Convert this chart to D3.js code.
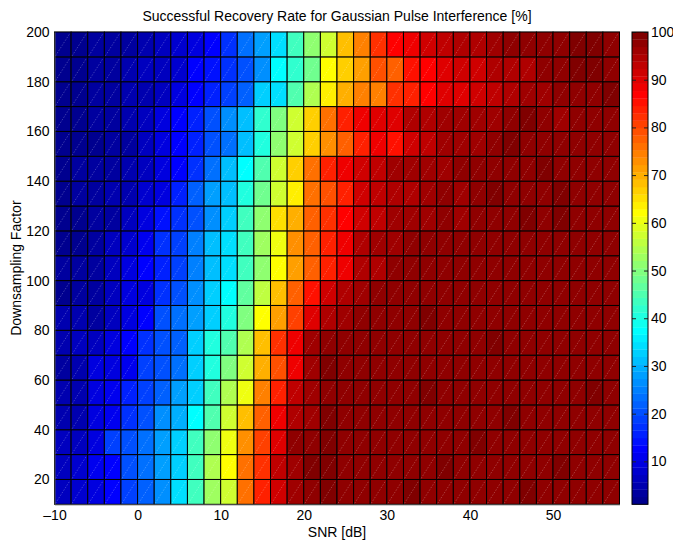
<!DOCTYPE html>
<html>
<head>
<meta charset="utf-8">
<script src="https://cdn.jsdelivr.net/npm/d3@7"></script>
<style>
  body { margin: 0; background: #fff; }
  text { font-family: "Liberation Sans", Arial, Helvetica, sans-serif; fill: #000; }
</style>
</head>
<body>
<svg id="chart" width="673" height="540"></svg>
<script>
// Lower-left corner of every cell: SNR (dB) columns and downsampling-factor rows
const snrStart = [-10, -8, -6, -4, -2, 0, 2, 4, 6, 8, 10, 12, 14, 16, 18, 20, 22,
                  24, 26, 28, 30, 32, 34, 36, 38, 40, 42, 44, 46, 48, 50, 52, 54, 56];
const factorStart = [10, 20, 30, 40, 50, 60, 70, 80, 90, 100,
                     110, 120, 130, 140, 150, 160, 170, 180, 190];

// Successful recovery rate [%], one row per downsampling factor (same order as factorStart)
const rateF10  = [7,8,10,13,19,22,27,34,44,53,58,76,84,91,96,98,99,98,98,98,98,99,98,98,98,98,98,98,99,98,98,98,98,98];
const rateF20  = [7,8,11,13,21,23,28,33,44,54,62,76,82,93,96,99,99,98,98,98,98,98,98,99,98,98,98,98,98,98,99,98,98,98];
const rateF30  = [6,7,9,19,21,23,28,32,43,52,61,73,81,90,98,98,99,98,98,98,98,98,98,98,98,99,98,98,98,98,98,98,98,98];
const rateF40  = [5,5,10,11,17,20,27,30,37,45,58,68,77,89,95,96,99,98,98,98,98,98,98,98,98,98,98,99,98,98,98,98,98,98];
const rateF50  = [5,5,9,11,16,19,22,28,33,43,54,61,74,84,93,96,98,98,98,98,98,98,99,98,98,98,98,98,98,98,98,98,99,98];
const rateF60  = [4,5,9,10,11,19,21,24,32,41,49,58,70,79,89,96,99,98,98,98,98,98,98,98,98,98,98,98,98,98,98,98,98,98];
const rateF70  = [5,6,7,10,13,17,20,22,32,40,45,55,68,82,89,96,98,98,98,98,98,98,98,98,98,98,99,98,98,98,98,98,98,98];
const rateF80  = [5,5,4,7,10,13,20,23,28,33,41,49,62,71,81,90,95,96,98,98,98,98,99,98,98,98,98,98,98,98,98,98,98,98];
const rateF90  = [2,3,4,6,9,10,17,20,27,33,38,47,56,68,77,85,91,95,96,98,98,98,98,98,98,98,98,98,98,98,98,98,98,98];
const rateF100 = [3,3,4,6,9,13,16,19,25,31,34,44,52,62,71,77,84,89,95,95,98,98,98,98,98,98,98,98,98,98,98,98,98,98];
const rateF110 = [2,2,3,6,8,11,17,19,25,31,34,44,53,60,73,78,84,88,94,96,96,98,97,98,97,98,98,97,98,98,98,98,98,98];
const rateF120 = [2,2,3,4,6,9,14,17,20,27,33,43,51,65,70,78,82,87,91,93,96,96,96,97,96,98,98,98,99,98,99,98,98,98];
const rateF130 = [2,3,3,5,5,8,10,16,22,28,31,40,48,58,64,76,79,84,92,93,95,95,96,98,96,97,99,98,98,98,99,98,98,98];
const rateF140 = [2,3,3,3,5,7,9,12,17,23,31,38,45,58,67,76,84,89,92,93,96,96,96,96,97,97,98,98,98,99,98,98,98,98];
const rateF150 = [2,2,2,3,3,6,9,13,16,21,23,31,41,51,58,67,73,78,84,88,85,91,93,96,96,96,98,99,98,98,98,98,98,98];
const rateF160 = [2,2,3,3,5,6,9,13,16,20,27,31,42,50,58,67,76,84,89,90,90,95,95,96,96,96,96,98,99,98,96,98,98,98];
const rateF170 = [2,2,3,4,5,5,7,9,13,15,19,22,32,35,45,54,64,70,74,74,82,83,87,90,90,92,93,95,96,96,98,98,98,99];
const rateF180 = [2,2,3,4,5,6,6,8,13,14,17,20,26,38,42,48,62,66,71,79,77,85,87,90,92,92,94,95,94,98,98,99,99,98];
const rateF190 = [2,2,3,4,4,5,6,8,10,13,18,23,28,34,44,51,57,68,74,82,87,89,91,93,94,95,96,97,98,98,98,99,99,98];

const rateRows = [rateF10, rateF20, rateF30, rateF40, rateF50, rateF60, rateF70, rateF80, rateF90, rateF100,
                  rateF110, rateF120, rateF130, rateF140, rateF150, rateF160, rateF170, rateF180, rateF190];

const xTicks = [-10, 0, 10, 20, 30, 40, 50];
const yTicks = [20, 40, 60, 80, 100, 120, 140, 160, 180, 200];
const cTicks = [10, 20, 30, 40, 50, 60, 70, 80, 90, 100];

const snrStep = 2, factorStep = 10;
const colorLimits = [1, 100];

// MATLAB-style jet colormap with 64 entries
function jet(m) {
  const n = Math.ceil(m / 4);
  const u = [];
  for (let k = 1; k <= n; k++) u.push(k / n);
  for (let k = 1; k < n; k++) u.push(1);
  for (let k = n; k >= 1; k--) u.push(k / n);
  const g0 = Math.ceil(n / 2) - (m % 4 === 1 ? 1 : 0);
  const cols = Array.from({length: m}, () => [0, 0, 0]);
  u.forEach((val, i) => {
    const g = g0 + i + 1, r = g + n, b = g - n;
    if (r >= 1 && r <= m) cols[r - 1][0] = val;
    if (g >= 1 && g <= m) cols[g - 1][1] = val;
    if (b >= 1 && b <= m) cols[b - 1][2] = val;
  });
  return cols.map(c => d3.rgb(c[0] * 255, c[1] * 255, c[2] * 255).formatHex());
}
const palette = jet(64);
const color = d3.scaleQuantize().domain(colorLimits).range(palette);

const svg = d3.select("#chart");
const plot = { left: 54.5, top: 32, right: 619.5, bottom: 504.3 };

const x = d3.scaleLinear().domain([-10, 58]).range([plot.left, plot.right]);
const y = d3.scaleLinear().domain([10, 200]).range([plot.bottom, plot.top]);

// frame of the axes box
svg.append("line")
  .attr("x1", plot.left).attr("x2", plot.right)
  .attr("y1", plot.top - 0.5).attr("y2", plot.top - 0.5)
  .attr("stroke", "#9a9a9a").attr("stroke-width", 1).attr("stroke-dasharray", "1,1");

// cells
const cells = [];
rateRows.forEach((row, i) => row.forEach((v, j) => cells.push({ s: snrStart[j], f: factorStart[i], v })));

const cellG = svg.append("g");
cellG.selectAll("rect").data(cells).join("rect")
  .attr("x", d => x(d.s))
  .attr("y", d => y(d.f + factorStep))
  .attr("width", d => x(d.s + snrStep) - x(d.s))
  .attr("height", d => y(d.f) - y(d.f + factorStep))
  .attr("fill", d => color(d.v))
  .attr("stroke", "#000")
  .attr("stroke-width", 1);

// faint triangulation diagonals inside each cell
cellG.selectAll("line.diag").data(cells).join("line")
  .attr("class", "diag")
  .attr("x1", d => x(d.s) + 1).attr("y1", d => y(d.f) - 1)
  .attr("x2", d => x(d.s + snrStep) - 1).attr("y2", d => y(d.f + factorStep) + 1)
  .attr("stroke", "#fff").attr("stroke-opacity", 0.35)
  .attr("stroke-width", 0.7).attr("stroke-dasharray", "1.5,1.5");

// axes
const fmt = d => d < 0 ? "\u2013" + Math.abs(d) : String(d);
const xAxis = svg.append("g")
  .attr("transform", `translate(0,${plot.bottom})`)
  .call(d3.axisBottom(x).tickValues(xTicks).tickSize(0).tickPadding(6).tickFormat(fmt));
const yAxis = svg.append("g")
  .attr("transform", `translate(${plot.left},0)`)
  .call(d3.axisLeft(y).tickValues(yTicks).tickSize(0).tickPadding(5).tickFormat(fmt));
[xAxis, yAxis].forEach(g => {
  g.select(".domain").attr("stroke", "#555").attr("stroke-width", 1);
  g.selectAll("text").style("font-size", "14px").attr("fill", "#000");
});

// colorbar
const cb = { left: 632, right: 648 };
const cy = d3.scaleLinear().domain(colorLimits).range([plot.bottom, plot.top]);
const bandSize = (colorLimits[1] - colorLimits[0]) / palette.length;
svg.append("g").selectAll("rect").data(palette).join("rect")
  .attr("x", cb.left)
  .attr("width", cb.right - cb.left)
  .attr("y", (c, k) => cy(colorLimits[0] + (k + 1) * bandSize))
  .attr("height", (c, k) => cy(colorLimits[0] + k * bandSize) - cy(colorLimits[0] + (k + 1) * bandSize) + 0.3)
  .attr("fill", c => c);

const cAxisR = svg.append("g")
  .attr("transform", `translate(${cb.right},0)`)
  .call(d3.axisRight(cy).tickValues(cTicks).tickSizeInner(-4).tickSizeOuter(0).tickPadding(3));
const cAxisL = svg.append("g")
  .attr("transform", `translate(${cb.left},0)`)
  .call(d3.axisLeft(cy).tickValues(cTicks).tickSizeInner(-4).tickSizeOuter(0).tickFormat(""));
[cAxisR, cAxisL].forEach(g => {
  g.select(".domain").remove();
  g.selectAll(".tick line").attr("stroke", "#222");
});
cAxisR.selectAll("text").style("font-size", "14px").attr("fill", "#000");
svg.append("rect")
  .attr("x", cb.left).attr("y", plot.top)
  .attr("width", cb.right - cb.left).attr("height", plot.bottom - plot.top)
  .attr("fill", "none").attr("stroke", "#000").attr("stroke-width", 1);

// titles
svg.append("text")
  .attr("x", (plot.left + plot.right) / 2).attr("y", 21)
  .attr("text-anchor", "middle").style("font-size", "14px")
  .text("Successful Recovery Rate for Gaussian Pulse Interference [%]");
svg.append("text")
  .attr("x", (plot.left + plot.right) / 2).attr("y", 537)
  .attr("text-anchor", "middle").style("font-size", "14px")
  .text("SNR [dB]");
svg.append("text")
  .attr("transform", `translate(21,${(plot.top + plot.bottom) / 2}) rotate(-90)`)
  .attr("text-anchor", "middle").style("font-size", "14px")
  .text("Downsampling Factor");
</script>
</body>
</html>
